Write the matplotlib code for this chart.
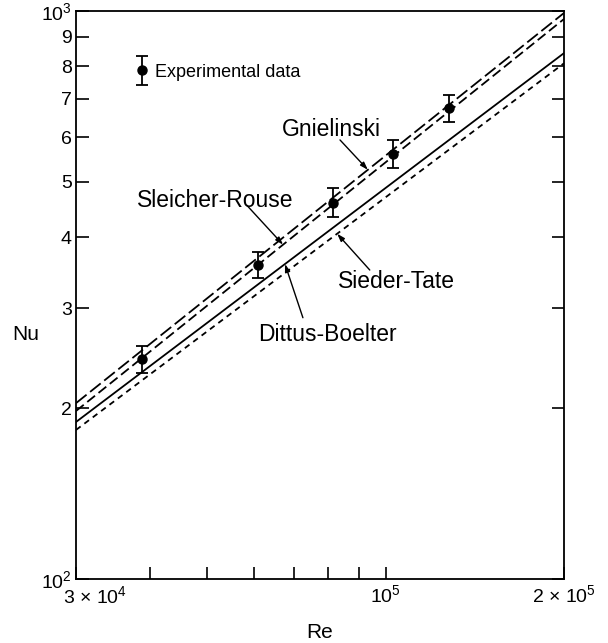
import numpy as np
import matplotlib
matplotlib.use("Agg")
import matplotlib.pyplot as plt
from matplotlib.container import ErrorbarContainer
from matplotlib.legend_handler import HandlerErrorbar

plt.rcParams['font.family'] = ['Liberation Sans', 'DejaVu Sans']
plt.rcParams['mathtext.fontset'] = 'custom'
plt.rcParams['mathtext.rm'] = 'Liberation Sans'
plt.rcParams['mathtext.default'] = 'regular'

# correlation lines, end values at Re = 3e4 and 2e5
re_ends = [3e4, 2e5]
nu_gnielinski = [204, 992]
nu_sleicher_rouse = [197.6, 968]
nu_dittus_boelter = [189, 843]
nu_sieder_tate = [183, 809]

# experimental data
re_exp = [3.88e4, 6.09e4, 8.15e4, 1.03e5, 1.28e5]
nu_exp = [244, 357, 459, 560, 675]
nu_exp_hi = [257, 376, 488, 593, 711]
nu_exp_lo = [230.6, 339, 433, 529, 638]

x_ticks = [3e4, 4e4, 5e4, 6e4, 7e4, 8e4, 9e4, 1e5, 2e5]
x_ticklabels = ['', '', '', '', '', '', '', '$10^5$', '2 × 10$^5$']
y_ticks = [100, 200, 300, 400, 500, 600, 700, 800, 900, 1000]
y_ticklabels = ['$10^2$', '2', '3', '4', '5', '6', '7', '8', '9', '$10^3$']


def on_line(vals, re):
    return 10 ** np.interp(np.log10(re), np.log10(re_ends), np.log10(vals))


fig = plt.figure(figsize=(6.08, 6.43), dpi=100)
ax = fig.add_axes([0.125, 0.0995, 0.8026, 0.8834])
ax.set_xscale('log')
ax.set_yscale('log')

ax.plot(re_ends, nu_gnielinski, color='black', lw=1.3, ls=(0, (7.5, 2.5)))
ax.plot(re_ends, nu_sleicher_rouse, color='black', lw=1.3, ls=(0, (5.5, 2.5)))
ax.plot(re_ends, nu_dittus_boelter, color='black', lw=1.3, ls='-')
ax.plot(re_ends, nu_sieder_tate, color='black', lw=1.3, ls=(0, (3.2, 2.6)))

nu_exp = np.array(nu_exp)
yerr = [nu_exp - np.array(nu_exp_lo), np.array(nu_exp_hi) - nu_exp]
eb = ax.errorbar(re_exp, nu_exp, yerr=yerr, fmt='o', color='black', ms=6.5,
                 elinewidth=1.3, capsize=4, capthick=1.3, label='Experimental data')

ax.set_xlim(3e4, 2e5)
ax.set_ylim(100, 1000)

ax.set_xticks(x_ticks)
ax.set_xticklabels(x_ticklabels)
ax.set_yticks(y_ticks)
ax.set_yticklabels(y_ticklabels)
ax.minorticks_off()
ax.tick_params(direction='in', length=9, width=1.2, labelsize=14, pad=3,
               top=False, right=True)
ax.tick_params(axis='x', pad=4)
for s in ax.spines.values():
    s.set_linewidth(1.3)
ax.text(-0.027, -0.01, '3 × 10$^4$', transform=ax.transAxes, fontsize=14,
        ha='left', va='top')

ax.set_xlabel('Re', fontsize=15, labelpad=12)
ax.set_ylabel('Nu', fontsize=15, rotation=0, ha='center', va='center')
ax.yaxis.set_label_coords(-0.102, 0.43)

ax.legend(handles=[eb], loc='center left', bbox_to_anchor=(0.124, 0.8926),
          frameon=False, fontsize=13, borderpad=0, borderaxespad=0,
          handlelength=0.6, handletextpad=0.4, numpoints=1,
          handler_map={ErrorbarContainer: HandlerErrorbar(xerr_size=0.8)})

# labels with pointers
labels = [
    ('Gnielinski', nu_gnielinski, 9.33e4, (0.5225, 0.792), (0.541, 0.773)),
    ('Sleicher-Rouse', nu_sleicher_rouse, 6.71e4, (0.285, 0.667), (0.350, 0.658)),
    ('Dittus-Boelter', nu_dittus_boelter, 6.76e4, (0.516, 0.4296), (0.465, 0.46)),
    ('Sieder-Tate', nu_sieder_tate, 8.28e4, (0.656, 0.523), (0.602, 0.544)),
]
for name, vals, re_tip, txt_pos, arr_start in labels:
    ax.text(txt_pos[0], txt_pos[1], name, transform=ax.transAxes, fontsize=16.5,
            ha='center', va='center')
    ax.annotate('', xy=(re_tip, on_line(vals, re_tip)), xycoords='data',
                xytext=arr_start, textcoords='axes fraction',
                arrowprops=dict(arrowstyle='-|>,head_length=0.45,head_width=0.15',
                                color='black', lw=1.0, shrinkA=0, shrinkB=0))

fig.savefig('out.png', dpi=100)
